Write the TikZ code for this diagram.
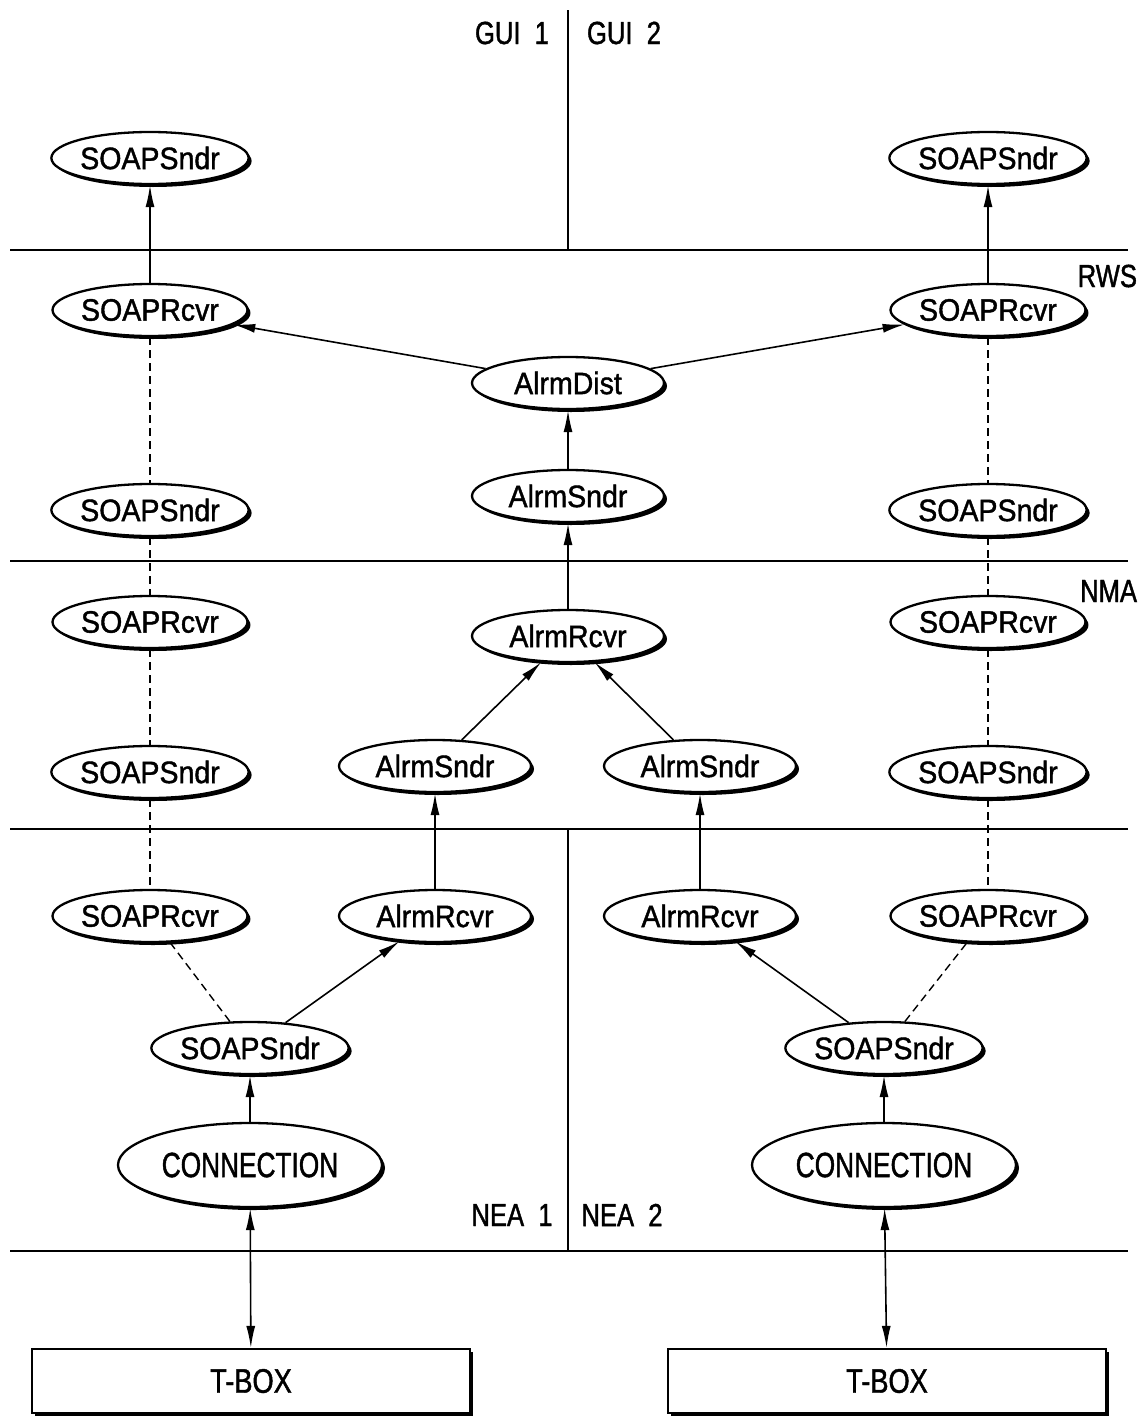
\documentclass[tikz,border=0pt]{standalone}
\usepackage{fontspec}
\setmainfont{Liberation Sans}[FakeStretch=0.92,FakeBold=1.3]
\newfontfamily\condfont{Liberation Sans}[FakeStretch=0.75,FakeBold=1.3]
\newfontfamily\lblfont{Liberation Sans}[FakeStretch=0.8,FakeBold=1.3]
\usetikzlibrary{shapes.geometric,arrows.meta,shadows}
\begin{document}
\begin{tikzpicture}[x=1pt,y=-1pt,
  line width=2pt,
  shad/.style={drop shadow={shadow xshift=3pt,shadow yshift=-3pt,fill=black,opacity=1}},
  proc/.style={ellipse,draw,line width=2.3pt,fill=white,shad,minimum width=192pt,minimum height=52pt,inner sep=0pt,
    font=\fontsize{31}{33}\selectfont},
  bigproc/.style={ellipse,draw,line width=2.3pt,fill=white,shad,minimum width=264pt,minimum height=84pt,inner sep=0pt,
    font=\condfont\fontsize{35}{37}\selectfont},
  tbox/.style={rectangle,draw,line width=2.3pt,fill=white,shad,minimum width=438pt,minimum height=64pt,inner sep=0pt,
    font=\lblfont\fontsize{34}{36}\selectfont},
  lbl/.style={font=\lblfont\fontsize{32}{34}\selectfont,inner sep=0pt},
  sep/.style={line width=2pt},
  arr/.style={-{Latex[length=22pt,width=9pt]},line width=1.6pt},
  darr/.style={{Latex[length=22pt,width=9pt]}-{Latex[length=22pt,width=9pt]},line width=1.6pt},
  dsh/.style={dash pattern=on 8pt off 5pt,line width=1.4pt}
]
\useasboundingbox (0,0) rectangle (1142,1416);
% separators
\coordinate (h1l) at (10,250); \coordinate (h1r) at (1128,250);
\coordinate (h2l) at (10,561); \coordinate (h2r) at (1128,561);
\coordinate (h3l) at (10,829); \coordinate (h3r) at (1128,829);
\coordinate (h4l) at (10,1251); \coordinate (h4r) at (1128,1251);
\coordinate (vt) at (568,10); \coordinate (vb) at (568,250);
\coordinate (vt2) at (568,829); \coordinate (vb2) at (568,1251);
\draw[sep] (h1l) -- (h1r);
\draw[sep] (h2l) -- (h2r);
\draw[sep] (h3l) -- (h3r);
\draw[sep] (h4l) -- (h4r);
\draw[sep] (vt) -- (vb);
\draw[sep] (vt2) -- (vb2);
% labels
\node[lbl] (gui1) at (512,33) {GUI\ \ 1};
\node[lbl] (gui2) at (624,33) {GUI\ \ 2};
\node[lbl,anchor=east] (rws) at (1138,276) {RWS};
\node[lbl,anchor=east] (nma) at (1138,591) {NMA};
\node[lbl] (nea1) at (512,1215) {NEA\ \ 1};
\node[lbl] (nea2) at (622,1215) {NEA\ \ 2};
% nodes
\node[proc] (gs1) at (150,158) {SOAPSndr};
\node[proc] (gs2) at (988,158) {SOAPSndr};
\node[proc] (rr1) at (150,310) {SOAPRcvr};
\node[proc] (rr2) at (988,310) {SOAPRcvr};
\node[proc] (dist) at (568,383) {AlrmDist};
\node[proc] (rasn) at (568,496) {AlrmSndr};
\node[proc] (rs1) at (150,510) {SOAPSndr};
\node[proc] (rs2) at (988,510) {SOAPSndr};
\node[proc] (narc) at (568,636) {AlrmRcvr};
\node[proc] (nr1) at (150,622) {SOAPRcvr};
\node[proc] (nr2) at (988,622) {SOAPRcvr};
\node[proc] (ns1) at (150,772) {SOAPSndr};
\node[proc] (ns2) at (988,772) {SOAPSndr};
\node[proc] (nas1) at (435,766) {AlrmSndr};
\node[proc] (nas2) at (700,766) {AlrmSndr};
\node[proc] (er1) at (150,916) {SOAPRcvr};
\node[proc] (ear1) at (435,916) {AlrmRcvr};
\node[proc] (ear2) at (700,916) {AlrmRcvr};
\node[proc] (er2) at (988,916) {SOAPRcvr};
\node[proc] (es1) at (250,1048) {SOAPSndr};
\node[proc] (es2) at (884,1048) {SOAPSndr};
\node[bigproc] (con1) at (250,1165) {CONNECTION};
\node[bigproc] (con2) at (884,1165) {CONNECTION};
\node[tbox] (tb1) at (251,1381) {T-BOX};
\node[tbox] (tb2) at (887,1381) {T-BOX};
% connectors
\draw[arr] (rr1) -- (gs1);
\draw[arr] (rr2) -- (gs2);
\draw[arr] (dist) -- (rr1);
\draw[arr] (dist) -- (rr2);
\draw[arr] (rasn) -- (dist);
\draw[arr] (narc) -- (rasn);
\draw[arr] (nas1) -- (narc);
\draw[arr] (nas2) -- (narc);
\draw[arr] (ear1) -- (nas1);
\draw[arr] (ear2) -- (nas2);
\draw[arr] (es1) -- (ear1);
\draw[arr] (es2) -- (ear2);
\draw[arr] (con1) -- (es1);
\draw[arr] (con2) -- (es2);
\draw[darr] (con1) -- (tb1);
\draw[darr] (con2) -- (tb2);
\draw[dsh] (es1) -- (er1);
\draw[dsh] (es2) -- (er2);
\draw[dsh] (rr1) -- (rs1);
\draw[dsh] (rs1) -- (nr1);
\draw[dsh] (nr1) -- (ns1);
\draw[dsh] (ns1) -- (er1);
\draw[dsh] (rr2) -- (rs2);
\draw[dsh] (rs2) -- (nr2);
\draw[dsh] (nr2) -- (ns2);
\draw[dsh] (ns2) -- (er2);
\end{tikzpicture}
\end{document}
